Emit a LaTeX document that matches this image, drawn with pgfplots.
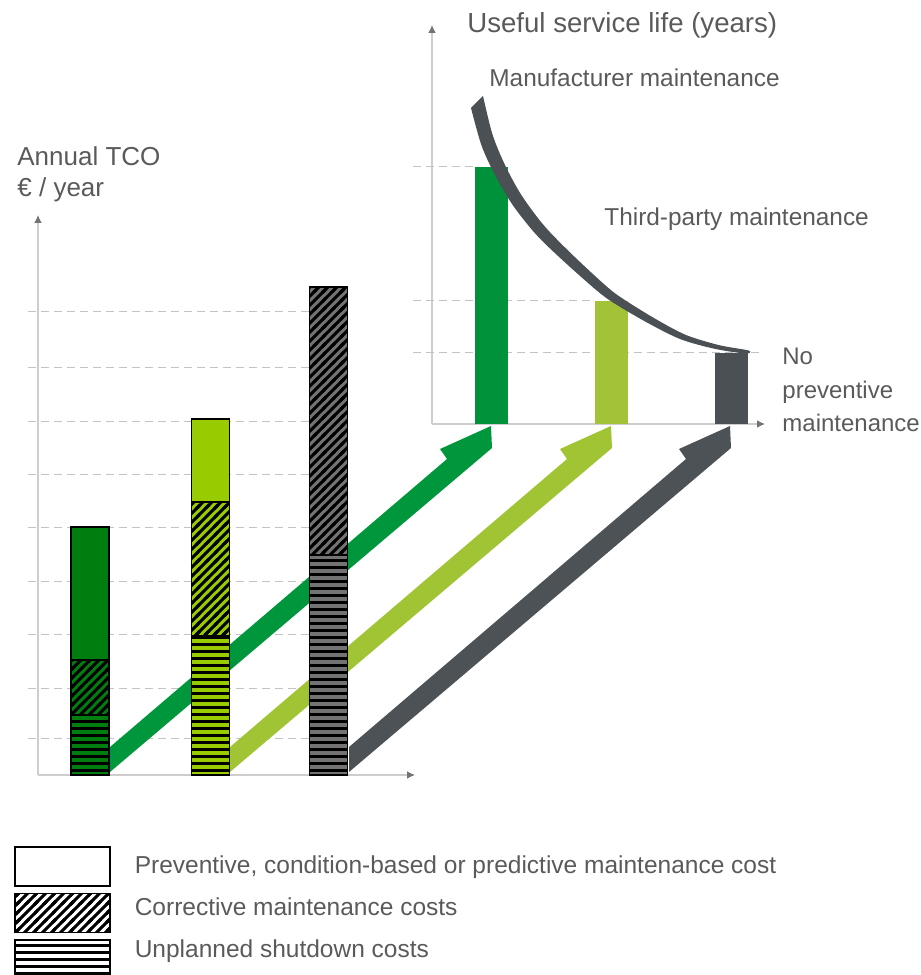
\documentclass[border=0pt]{standalone}
\usepackage{pgfplots}
\pgfplotsset{compat=1.18}
\usepackage{fontspec}
\setmainfont{Liberation Sans}
\usetikzlibrary{patterns,arrows.meta}

\definecolor{txt}{RGB}{90,90,90}
\definecolor{dkgreen}{RGB}{0,125,15}
\definecolor{ltgreen}{RGB}{153,204,0}
\definecolor{midgrey}{RGB}{115,115,115}
\definecolor{arrgreen}{RGB}{0,150,60}
\definecolor{arrlight}{RGB}{160,196,52}
\definecolor{arrdark}{RGB}{77,82,87}
\definecolor{rgreen}{RGB}{0,146,58}
\definecolor{rlight}{RGB}{162,194,56}
\definecolor{rdark}{RGB}{75,80,85}
\definecolor{gridc}{RGB}{195,195,195}
\definecolor{axisc}{RGB}{205,205,205}

% wide tiles, so the stripes show few seams
\pgfdeclarepatternformonly{hstripes}{\pgfqpoint{-1pt}{0pt}}{\pgfqpoint{41pt}{3.5pt}}{\pgfqpoint{40pt}{3.5pt}}{%
  \pgfpathrectangle{\pgfqpoint{-1pt}{0pt}}{\pgfqpoint{42pt}{1.5pt}}\pgfusepath{fill}}
\pgfdeclarepatternformonly{dhatch}{\pgfqpoint{-1pt}{-1pt}}{\pgfqpoint{10pt}{10pt}}{\pgfqpoint{9pt}{9pt}}{%
  \pgfsetlinewidth{1.5pt}%
  \pgfpathmoveto{\pgfqpoint{-1pt}{-1pt}}\pgfpathlineto{\pgfqpoint{10pt}{10pt}}%
  \pgfpathmoveto{\pgfqpoint{-1pt}{3.5pt}}\pgfpathlineto{\pgfqpoint{5.5pt}{10pt}}%
  \pgfpathmoveto{\pgfqpoint{3.5pt}{-1pt}}\pgfpathlineto{\pgfqpoint{10pt}{5.5pt}}%
  \pgfpathmoveto{\pgfqpoint{-1pt}{8pt}}\pgfpathlineto{\pgfqpoint{1pt}{10pt}}%
  \pgfpathmoveto{\pgfqpoint{8pt}{-1pt}}\pgfpathlineto{\pgfqpoint{10pt}{1pt}}%
  \pgfusepath{stroke}}

\tikzset{
  hatch/.style={postaction={pattern=dhatch,pattern color=black}},
  hstripe/.style={postaction={pattern=hstripes,pattern color=black}},
  gline/.style={draw=gridc,line width=0.5pt,dash pattern=on 4pt off 2.5pt},
}
\pgfplotsset{
  base/.style={
    scale only axis, anchor=south west, clip=false,
    axis lines=left,
    axis line style={draw=axisc,line width=0.8pt,-{Latex[length=4pt,width=4pt,color=black!55]}},
    xtick=\empty, ytick=\empty,
  },
  segbar/.style={ybar,bar shift=0pt,bar width=38,draw=black,line width=0.8pt},
}

\begin{document}
\begin{tikzpicture}
\useasboundingbox (0,0) rectangle (460.5pt,487.5pt);

% left: annual TCO, 1 unit = 1 px of the reference
\begin{axis}[base,
  at={(19pt,100pt)}, width=188.5pt, height=280pt,
  xmin=0, xmax=377, ymin=0, ymax=560,
  ylabel={Annual TCO\\€ / year},
  every axis y label/.style={at={(rel axis cs:0,1)},anchor=south west,align=left,
    inner sep=0pt,xshift=-10.5pt,yshift=6.5pt,font=\fontsize{13}{15.5}\selectfont,text=txt},
  legend style={at={(axis cs:-24,-71)},anchor=north west,draw=none,fill=none,
    inner sep=0pt,outer sep=0pt,row sep=2.85pt,column sep=12pt,
    font=\fontsize{12.25}{14}\selectfont,text=txt,nodes={inner sep=0pt}},
  legend cell align=left,
]
\addlegendimage{legend image code/.code={\draw[black,line width=0.9pt,fill=white] (0pt,-9.75pt) rectangle (47.5pt,9.75pt);}}
\addlegendentry{Preventive, condition-based or predictive maintenance cost}
\addlegendimage{legend image code/.code={\draw[black,line width=0.9pt,fill=white,hatch] (0pt,-12.25pt) rectangle (47.5pt,7.25pt);}}
\addlegendentry{Corrective maintenance costs}
\addlegendimage{legend image code/.code={\draw[black,line width=0.9pt,fill=white,hstripe] (0pt,-14.25pt) rectangle (47.5pt,5.25pt);}}
\addlegendentry{Unplanned shutdown costs}

% dashed grid, stopping at the third bar
\addplot[gline] coordinates {(-10,36)(271,36)};
\addplot[gline] coordinates {(-10,86)(271,86)};
\addplot[gline] coordinates {(-10,140)(271,140)};
\addplot[gline] coordinates {(-10,193)(271,193)};
\addplot[gline] coordinates {(-10,247)(271,247)};
\addplot[gline] coordinates {(-10,300)(271,300)};
\addplot[gline] coordinates {(-10,353)(271,353)};
\addplot[gline] coordinates {(-10,407)(271,407)};
\addplot[gline] coordinates {(-10,463)(271,463)};

% arrows from each bar to the service-life bars
\addplot[draw=none,fill=arrgreen] coordinates {(72,3)(72,28)(409,316)(402,326)(453,349)(454,327)} -- cycle;
\addplot[draw=none,fill=arrlight] coordinates {(192,3)(192,28)(529,316)(522,326)(573,349)(574,327)} -- cycle;
\addplot[draw=none,fill=arrdark] coordinates {(311,3)(311,28)(648,316)(641,326)(692,349)(693,327)} -- cycle;

% stacked costs, drawn as cumulative heights from the top segment down
\addplot[segbar,fill=dkgreen] coordinates {(52,248)};
\addplot[segbar,fill=ltgreen] coordinates {(172.5,356)};
\addplot[segbar,fill=dkgreen,hatch] coordinates {(52,115)};
\addplot[segbar,fill=ltgreen,hatch] coordinates {(172.5,273)};
\addplot[segbar,fill=midgrey,hatch] coordinates {(290.5,488)};
\addplot[segbar,fill=dkgreen,hstripe] coordinates {(52,60)};
\addplot[segbar,fill=ltgreen,hstripe] coordinates {(172.5,139)};
\addplot[segbar,fill=midgrey,hstripe] coordinates {(290.5,220)};
\end{axis}

% right: useful service life
\begin{axis}[base,
  at={(216pt,275.5pt)}, width=166.5pt, height=199.5pt,
  xmin=0, xmax=333, ymin=0, ymax=399,
  ylabel={Useful service life (years)},
  every axis y label/.style={at={(rel axis cs:0,1)},anchor=base west,inner sep=0pt,
    xshift=17.5pt,yshift=-4pt,font=\fontsize{13.8}{16}\selectfont,text=txt},
]
\addplot[gline] coordinates {(-19,257)(43,257)};
\addplot[gline] coordinates {(-19,123)(162,123)};
\addplot[gline] coordinates {(-19,71)(330,71)};

\addplot[ybar,bar shift=0pt,bar width=33,draw=none,fill=rgreen] coordinates {(59.5,257)};
\addplot[ybar,bar shift=0pt,bar width=33,draw=none,fill=rlight] coordinates {(179,123)};
\addplot[ybar,bar shift=0pt,bar width=33,draw=none,fill=rdark] coordinates {(299.5,71)};

% tapering curve
\addplot[draw=none,fill=rdark,smooth] coordinates {
  (51,328)(60.5,289.5)(73,259)(89.6,228.6)(112.2,198.2)(138.8,170.8)
  (171.4,140.4)(188.1,127.1)(220.7,106.7)(253.3,89.3)(286.9,78.9)(316.5,73.5)
  (313.5,70.5)(283.1,75.1)(248.7,84.7)(215.3,101.3)(181.9,120.9)(164.6,133.6)
  (131.2,163.2)(103.8,189.8)(80.4,219.4)(63,249)(49.5,278.5)(39,316)} -- cycle;

\node[anchor=base west,inner sep=0pt,text=txt,font=\fontsize{12.2}{14}\selectfont]
  at (axis cs:57,337) {Manufacturer maintenance};
\node[anchor=base west,inner sep=0pt,text=txt,font=\fontsize{12.2}{14}\selectfont]
  at (axis cs:172,198) {Third-party maintenance};
\node[anchor=north west,inner sep=0pt,align=left,text=txt,font=\fontsize{12}{16.75}\selectfont]
  at (axis cs:350,76) {No\\preventive\\maintenance};
\end{axis}
\end{tikzpicture}
\end{document}
